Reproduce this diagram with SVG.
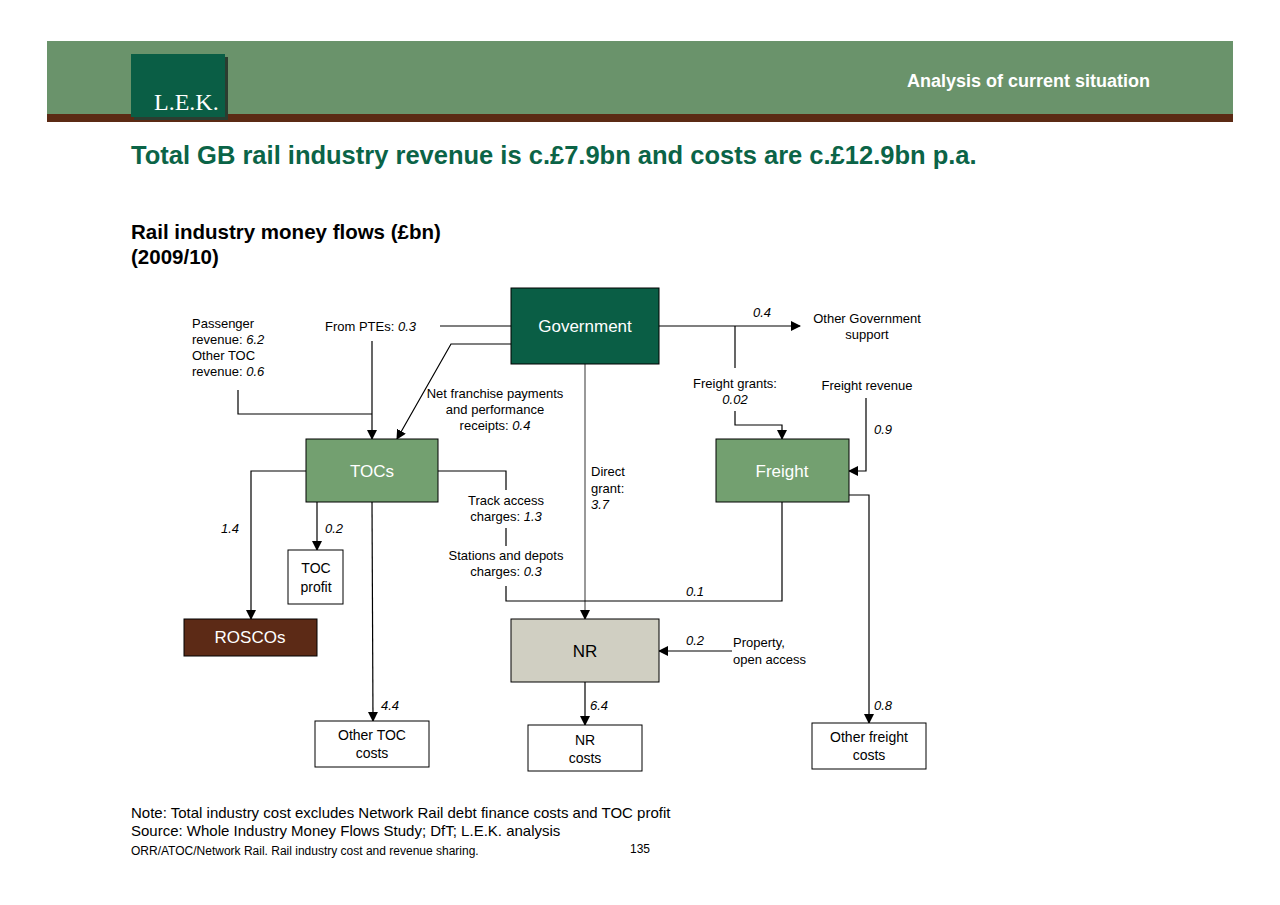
<svg xmlns="http://www.w3.org/2000/svg" width="1280" height="905" viewBox="0 0 1280 905">
<style>
text{font-family:"Liberation Sans",Arial,sans-serif;font-size:13px;fill:#000}
.i{font-style:italic}
.m{text-anchor:middle}
.nl{font-size:17px;fill:#fff;text-anchor:middle}
.c{fill:none;stroke:#000;stroke-width:1.2}
.box{stroke:#000;stroke-width:1}
</style>
<defs><marker id="a" markerWidth="10" markerHeight="10" refX="9" refY="5" orient="auto" markerUnits="userSpaceOnUse"><path d="M0,0 L10,5 L0,10 z" fill="#000"/></marker></defs>
<rect width="1280" height="905" fill="#fff"/>
<rect x="47" y="41" width="1186" height="74" fill="#6a936b"/>
<rect x="47" y="114" width="1186" height="8" fill="#5b2a14"/>
<rect x="134" y="57" width="94" height="63" fill="#2b3d30"/>
<rect x="131" y="54" width="94" height="63" fill="#0a5e45"/>
<text x="154" y="110" style="font-family:'Liberation Serif',serif;font-size:24px;fill:#fff">L.E.K.</text>
<text x="1150" y="87" style="font-size:18px;font-weight:bold;fill:#fff;text-anchor:end">Analysis of current situation</text>
<text x="131" y="164" style="font-size:25.5px;font-weight:bold;fill:#0b6447">Total GB rail industry revenue is c.£7.9bn and costs are c.£12.9bn p.a.</text>
<text x="131" y="239" style="font-size:20.5px;font-weight:bold">Rail industry money flows (£bn)</text>
<text x="131" y="264" style="font-size:20.5px;font-weight:bold">(2009/10)</text>
<g id="connectors">
<path class="c" d="M440,326 H511"/>
<path class="c" d="M372,341 V439" marker-end="url(#a)"/>
<path class="c" d="M238,390 V414 H372"/>
<path class="c" d="M511,344 H451 L397,439" marker-end="url(#a)"/>
<path class="c" d="M659,326 H800" marker-end="url(#a)"/>
<path class="c" d="M735,326 V368"/>
<path class="c" d="M735,411 V425 H782 V439" marker-end="url(#a)"/>
<path class="c" d="M866,398 V471 H849" marker-end="url(#a)"/>
<path class="c" d="M585,364 V619" marker-end="url(#a)" style="stroke:#555"/>
<path class="c" d="M438,471 H506 V490"/>
<path class="c" d="M506,528 V546"/>
<path class="c" d="M506,586 V601 H782 V502"/>
<path class="c" d="M306,471 H251 V619" marker-end="url(#a)"/>
<path class="c" d="M317,502 V550" marker-end="url(#a)"/>
<path class="c" d="M372,502 L373,721" marker-end="url(#a)"/>
<path class="c" d="M849,495 H869 V723" marker-end="url(#a)"/>
<path class="c" d="M732,651 H659" marker-end="url(#a)"/>
<path class="c" d="M585,682 V725" marker-end="url(#a)"/>
</g>
<g id="labels">
<text x="192" y="328">Passenger</text>
<text x="192" y="344">revenue: <tspan class="i">6.2</tspan></text>
<text x="192" y="360">Other TOC</text>
<text x="192" y="376">revenue: <tspan class="i">0.6</tspan></text>
<text x="325" y="331">From PTEs: <tspan class="i">0.3</tspan></text>
<text x="495" y="398" class="m">Net franchise payments</text>
<text x="495" y="414" class="m">and performance</text>
<text x="495" y="430" class="m">receipts: <tspan class="i">0.4</tspan></text>
<text x="591" y="476">Direct</text>
<text x="591" y="493">grant:</text>
<text x="591" y="509" class="i">3.7</text>
<text x="506" y="505" class="m">Track access</text>
<text x="506" y="521" class="m">charges: <tspan class="i">1.3</tspan></text>
<text x="506" y="560" class="m">Stations and depots</text>
<text x="506" y="576" class="m">charges: <tspan class="i">0.3</tspan></text>
<text x="753" y="317" class="i">0.4</text>
<text x="867" y="323" class="m">Other Government</text>
<text x="867" y="339" class="m">support</text>
<text x="735" y="388" class="m">Freight grants:</text>
<text x="735" y="404" class="m i">0.02</text>
<text x="867" y="390" class="m">Freight revenue</text>
<text x="874" y="434" class="i">0.9</text>
<text x="221" y="533" class="i">1.4</text>
<text x="325" y="533" class="i">0.2</text>
<text x="686" y="596" class="i">0.1</text>
<text x="686" y="645" class="i">0.2</text>
<text x="733" y="647">Property,</text>
<text x="733" y="664">open access</text>
<text x="381" y="710" class="i">4.4</text>
<text x="590" y="710" class="i">6.4</text>
<text x="874" y="710" class="i">0.8</text>
</g>
<g id="government"><rect class="box" x="511" y="288" width="148" height="76" fill="#0a5e45"/><text class="nl" x="585" y="332">Government</text></g>
<g id="tocs"><rect class="box" x="306" y="439" width="132" height="63" fill="#73a070"/><text class="nl" x="372" y="477">TOCs</text></g>
<g id="freight"><rect class="box" x="716" y="439" width="133" height="63" fill="#73a070"/><text class="nl" x="782" y="477">Freight</text></g>
<g id="tocprofit"><rect class="box" x="288" y="550" width="55" height="54" fill="#fff"/><text class="m" x="316" y="573" style="font-size:14px">TOC</text><text class="m" x="316" y="592" style="font-size:14px">profit</text></g>
<g id="roscos"><rect class="box" x="184" y="619" width="133" height="37" fill="#5c2a16"/><text class="nl" x="250" y="643">ROSCOs</text></g>
<g id="nr"><rect class="box" x="511" y="619" width="148" height="63" fill="#d0cfc2"/><text class="m" x="585" y="657" style="font-size:17px">NR</text></g>
<g id="othertoc"><rect class="box" x="315" y="721" width="114" height="46" fill="#fff"/><text class="m" x="372" y="740" style="font-size:14px">Other TOC</text><text class="m" x="372" y="758" style="font-size:14px">costs</text></g>
<g id="nrcosts"><rect class="box" x="528" y="725" width="114" height="46" fill="#fff"/><text class="m" x="585" y="745" style="font-size:14px">NR</text><text class="m" x="585" y="763" style="font-size:14px">costs</text></g>
<g id="otherfreight"><rect class="box" x="812" y="723" width="114" height="46" fill="#fff"/><text class="m" x="869" y="742" style="font-size:14px">Other freight</text><text class="m" x="869" y="760" style="font-size:14px">costs</text></g>
<text x="131" y="818" style="font-size:15px">Note: Total industry cost excludes Network Rail debt finance costs and TOC profit</text>
<text x="131" y="836" style="font-size:15px">Source: Whole Industry Money Flows Study; DfT; L.E.K. analysis</text>
<text x="131" y="855" style="font-size:12px">ORR/ATOC/Network Rail.  Rail industry cost and revenue sharing.</text>
<text x="630" y="853" style="font-size:12px">135</text>
</svg>
